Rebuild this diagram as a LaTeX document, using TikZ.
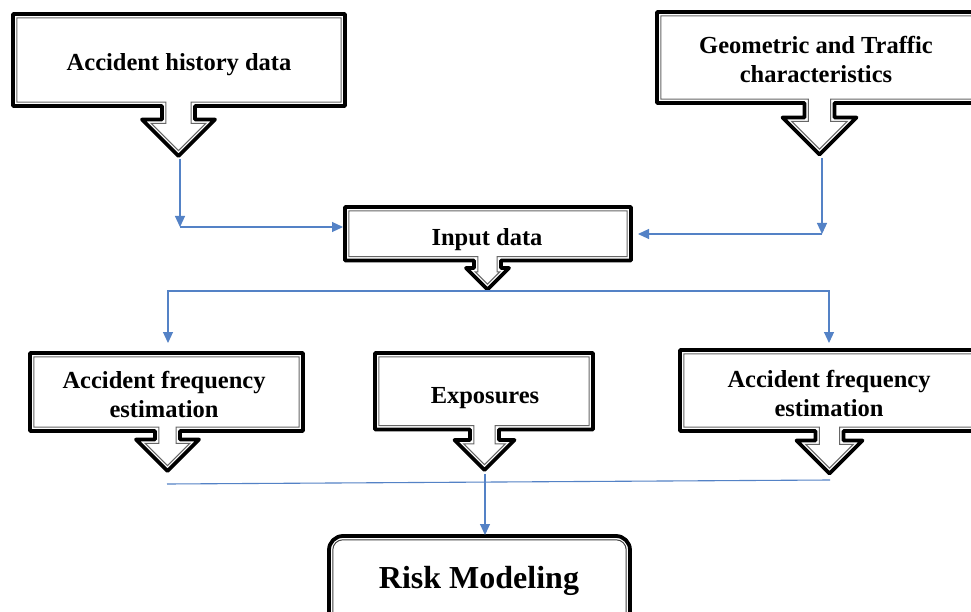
\documentclass[tikz,border=0pt]{standalone}
\usepackage{fontspec}
\setmainfont{Liberation Serif}
\usetikzlibrary{arrows.meta}
\definecolor{connblue}{RGB}{84,130,198}
\tikzset{
  outerline/.style={draw=black, line width=3.8pt, line join=round},
  innerline/.style={draw=black!60, line width=1pt, line join=miter},
  lbl/.style={font=\bfseries\fontsize{24.5}{29}\selectfont, align=center, inner sep=0pt},
  bigl/.style={font=\bfseries\fontsize{32}{36}\selectfont, inner sep=0pt},
  conn/.style={draw=connblue, line width=1.1pt, -{Triangle[length=11pt,width=10pt]}},
  plainconn/.style={draw=connblue, line width=1.1pt}
}
\def\cbin{3.8}
% L T R B cx sw hw sl
\newcommand{\callbox}[8]{%
  \draw[outerline] ({#1},{#2}) -- ({#3},{#2}) -- ({#3},{#4}) -- ({#5+#6},{#4}) -- ({#5+#6},{#4+#8})
    -- ({#5+#7},{#4+#8}) -- ({#5},{#4+#8+#7}) -- ({#5-#7},{#4+#8}) -- ({#5-#6},{#4+#8})
    -- ({#5-#6},{#4}) -- ({#1},{#4}) -- cycle;
  \draw[innerline] ({#1+\cbin},{#2+\cbin}) -- ({#3-\cbin},{#2+\cbin}) -- ({#3-\cbin},{#4-\cbin})
    -- ({#5+#6-\cbin},{#4-\cbin}) -- ({#5+#6-\cbin},{#4+#8+\cbin})
    -- ({#5+#7-2.4142*\cbin},{#4+#8+\cbin}) -- ({#5},{#4+#8+#7-1.4142*\cbin})
    -- ({#5-#7+2.4142*\cbin},{#4+#8+\cbin}) -- ({#5-#6+\cbin},{#4+#8+\cbin})
    -- ({#5-#6+\cbin},{#4-\cbin}) -- ({#1+\cbin},{#4-\cbin}) -- cycle;
}
\begin{document}
\begin{tikzpicture}[x=1pt,y=-1pt]
\useasboundingbox (0,0) rectangle (971,612);
\clip (0,0) rectangle (971,612);
\fill[white] (0,0) rectangle (971,612);

% boxes
\callbox{13}{14}{345}{106}{178.5}{16.5}{36.5}{13.5}
\callbox{657}{12}{985}{103}{819.5}{15}{37}{14.5}
\callbox{345}{207}{631}{260.5}{487.5}{13.5}{21.5}{7.5}
\callbox{30}{353}{303}{431}{167.5}{12.5}{31.5}{8.5}
\callbox{375}{353}{593}{429.5}{484.5}{14.5}{30}{10.5}
\callbox{680}{350}{985}{431}{829.5}{14}{33}{9.5}

% risk modeling box
\draw[outerline] (329,536) [rounded corners=14pt] rectangle (630,645);
\draw[draw=black!75, line width=1pt] (332.8,539.8) [rounded corners=10pt] rectangle (626.2,645);

% labels
\node[lbl] (hist) at (179,65) {Accident history data};
\node[lbl] (geo) at (816,59.5) {Geometric and Traffic\\characteristics};
\node[lbl] (inp) at (487,240) {Input data};
\node[lbl] (afl) at (164,394) {Accident frequency\\estimation};
\node[lbl] (expo) at (485,398) {Exposures};
\node[lbl] (afr) at (829,393.5) {Accident frequency\\estimation};
\node[bigl] (risk) at (479,581) {Risk Modeling};

% connector points
\coordinate (t1) at (180,159);
\coordinate (j1) at (180,227);
\coordinate (inW) at (343,227);
\coordinate (t2) at (822,158);
\coordinate (j2) at (822,234);
\coordinate (inE) at (638,234);
\coordinate (t3) at (488,291);
\coordinate (aflN) at (168,343);
\coordinate (afrN) at (829,343);
\coordinate (b1) at (167,484);
\coordinate (b2) at (830,480);
\coordinate (t4) at (485,474);
\coordinate (riskN) at (485,535);

% connectors
\draw[conn] (t1) -- (j1);
\draw[conn] (j1) -- (inW);
\draw[conn] (t2) -- (j2);
\draw[conn] (j2) -- (inE);
\draw[conn] (t3) -| (aflN);
\draw[conn] (t3) -| (afrN);
\draw[plainconn] (b1) -- (b2);
\draw[conn] (t4) -- (riskN);
\end{tikzpicture}
\end{document}
